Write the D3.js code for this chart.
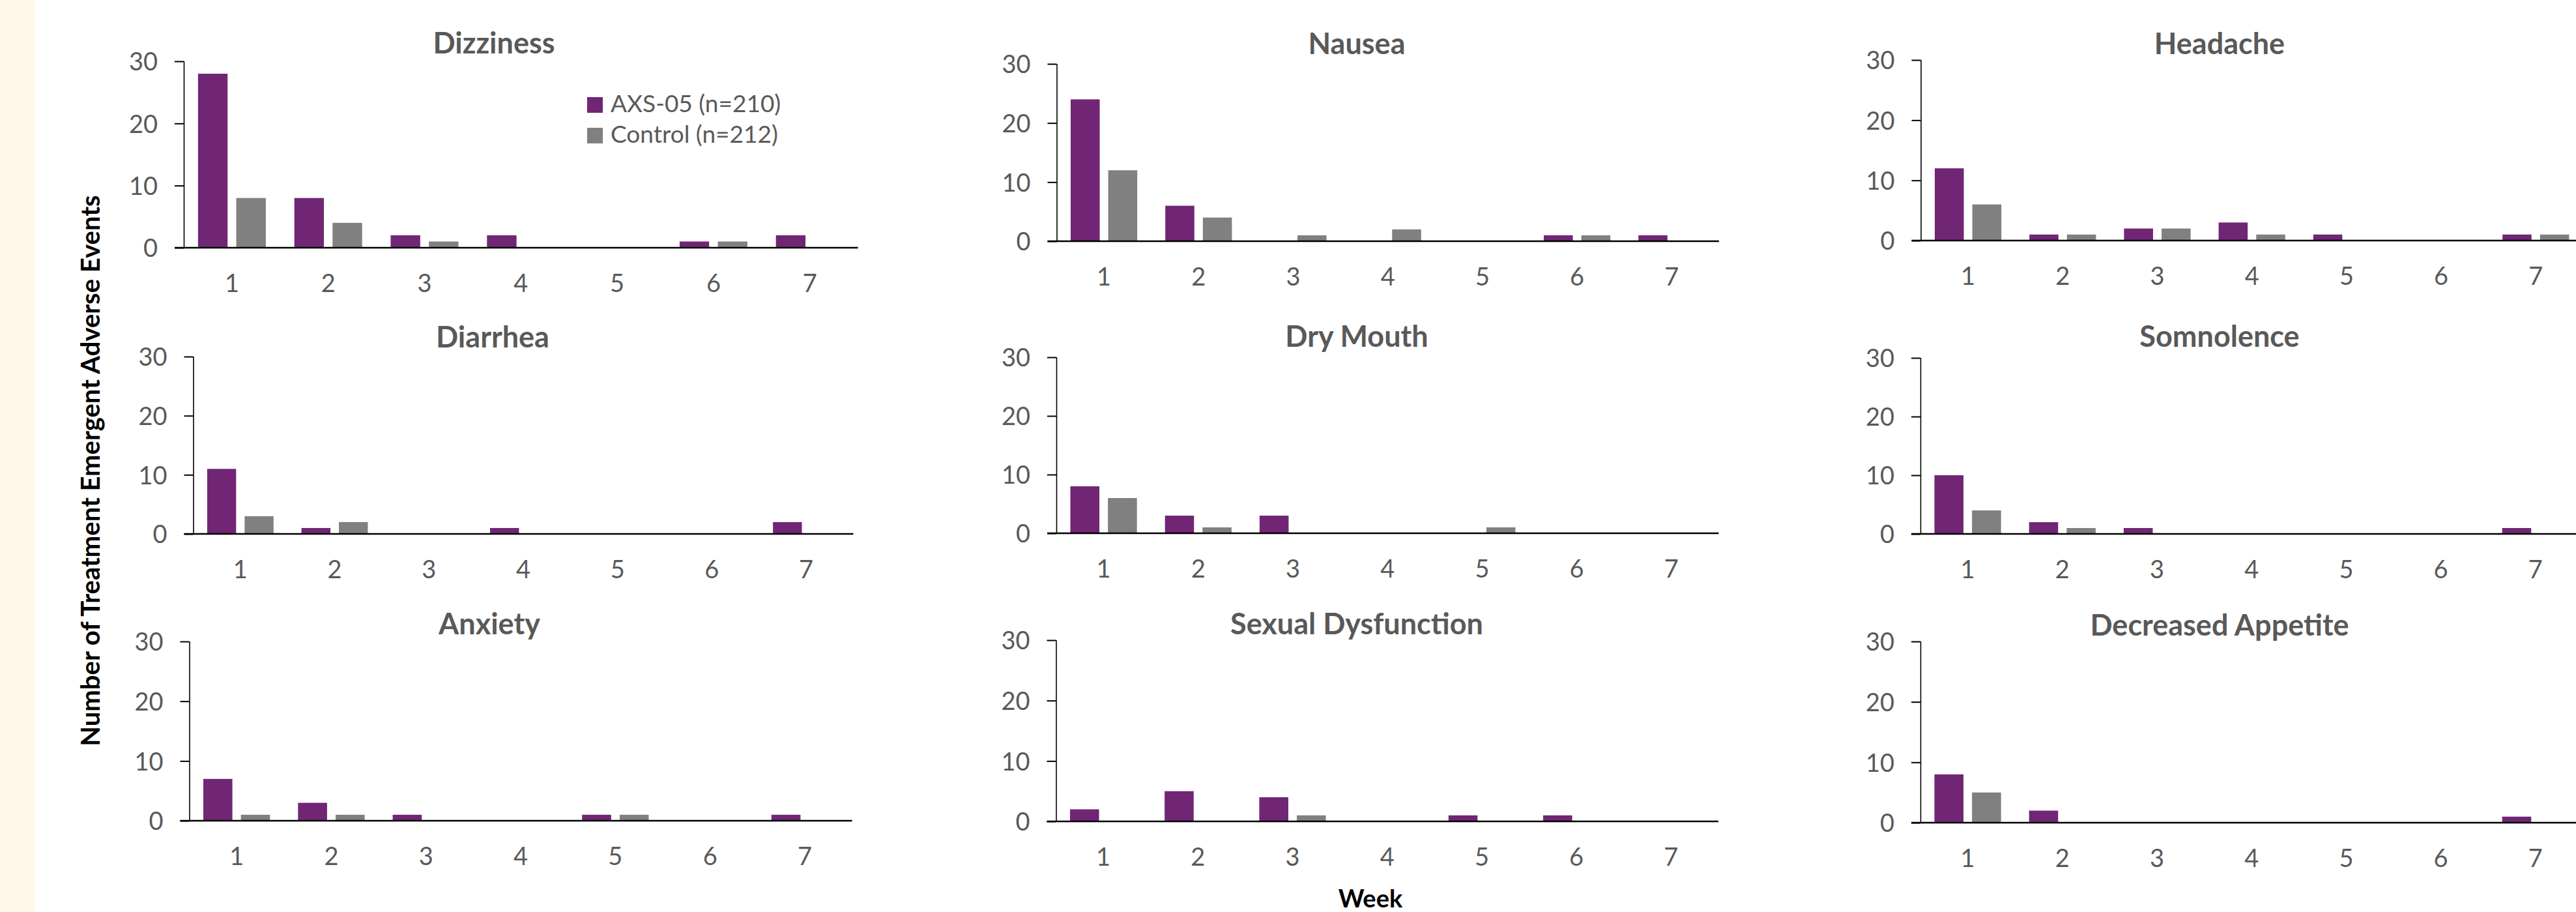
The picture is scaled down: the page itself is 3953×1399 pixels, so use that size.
<!DOCTYPE html>
<html>
<head>
<meta charset="utf-8">
<script src="https://cdn.jsdelivr.net/npm/d3@7"></script>
<style>
  html, body { margin: 0; padding: 0; background: #ffffff; }
  svg { display: block; }
  text { font-family: Lato, "Open Sans", sans-serif; }
</style>
</head>
<body>
<svg id="chart" width="3953" height="1399"></svg>
<script>
// ---------- data ----------
const weeks = ["1", "2", "3", "4", "5", "6", "7"];
const seriesNames = ["AXS-05 (n=210)", "Control (n=212)"];
const yTicks = [0, 10, 20, 30];
const symptoms = ["Dizziness", "Nausea", "Headache",
                  "Diarrhea", "Dry Mouth", "Somnolence",
                  "Anxiety", "Sexual Dysfunction", "Decreased Appetite"];
const axs05 = [
  [28, 8, 2, 2, 0, 1, 2],
  [24, 6, 0, 0, 0, 1, 1],
  [12, 1, 2, 3, 1, 0, 1],
  [11, 1, 0, 1, 0, 0, 2],
  [8, 3, 3, 0, 0, 0, 0],
  [10, 2, 1, 0, 0, 0, 1],
  [7, 3, 1, 0, 1, 0, 1],
  [2, 5, 4, 0, 1, 1, 0],
  [8, 2, 0, 0, 0, 0, 1]
];
const control = [
  [8, 4, 1, 0, 0, 1, 0],
  [12, 4, 1, 2, 0, 1, 0],
  [6, 1, 2, 1, 0, 0, 1],
  [3, 2, 0, 0, 0, 0, 0],
  [6, 1, 0, 0, 1, 0, 0],
  [4, 1, 0, 0, 0, 0, 0],
  [1, 1, 0, 0, 1, 0, 0],
  [0, 0, 1, 0, 0, 0, 0],
  [5, 0, 0, 0, 0, 0, 0]
];
const yAxisTitle = "Number of Treatment Emergent Adverse Events";
const xAxisTitle = "Week";

// ---------- layout (pixel frames of each small chart) ----------
const frames = [
  { x0: 282,    bw: 147.8, y0: 380,  y30: 94,  tx: 758,  ty: 82 },
  { x0: 1621.5, bw: 145.2, y0: 370,  y30: 98,  tx: 2082, ty: 83 },
  { x0: 2947.5, bw: 145.2, y0: 369,  y30: 92,  tx: 3406, ty: 83 },
  { x0: 296.5,  bw: 144.7, y0: 819,  y30: 547, tx: 756,  ty: 533 },
  { x0: 1621,   bw: 145.2, y0: 818,  y30: 548, tx: 2082, ty: 532 },
  { x0: 2947,   bw: 145.2, y0: 819,  y30: 549, tx: 3406, ty: 532 },
  { x0: 290.5,  bw: 145.3, y0: 1259, y30: 984, tx: 751,  ty: 973 },
  { x0: 1620.5, bw: 145.2, y0: 1260, y30: 982, tx: 2082, ty: 973 },
  { x0: 2947,   bw: 145.2, y0: 1262, y30: 984, tx: 3406, ty: 975 }
];

const colors = ["#702675", "#808080"];
const textGray = "#595959";

const svg = d3.select("#chart");

// cream strip on the left
svg.append("rect").attr("x", 0).attr("y", 0).attr("width", 53).attr("height", 1399)
  .attr("fill", "#fff7e7");

symptoms.forEach((name, i) => {
  const f = frames[i];
  const g = svg.append("g");
  const x = d3.scaleBand().domain(weeks).range([f.x0, f.x0 + 7 * f.bw]).padding(0);
  const xs = d3.scaleBand().domain(seriesNames).range([0, x.bandwidth()])
    .paddingInner(0.227).paddingOuter(0.373);
  const y = d3.scaleLinear().domain([0, 30]).range([f.y0, f.y30]);

  const rows = weeks.map((w, k) => ({ week: w, vals: [axs05[i][k], control[i][k]] }));

  // bars
  const grp = g.selectAll("g.wk").data(rows).join("g")
    .attr("transform", d => `translate(${x(d.week)},0)`);
  grp.selectAll("rect").data(d => d.vals.map((v, s) => ({ s, v }))).join("rect")
    .attr("x", d => xs(seriesNames[d.s]))
    .attr("width", xs.bandwidth())
    .attr("y", d => y(d.v))
    .attr("height", d => y(0) - y(d.v))
    .attr("fill", d => colors[d.s]);

  // y axis
  const ya = g.append("g").attr("transform", `translate(${f.x0},0)`)
    .call(d3.axisLeft(y).tickValues(yTicks).tickSize(14).tickPadding(26));
  ya.select(".domain").attr("stroke", "#000").attr("stroke-width", 1.6)
    .attr("d", `M0.5,${y(30)}V${y(0)}`);
  ya.selectAll(".tick line").attr("stroke", "#000").attr("stroke-width", 2);
  ya.selectAll(".tick text").attr("fill", textGray).attr("font-size", 38)
    .attr("font-family", "Lato, sans-serif").attr("dy", "0.36em");

  // x axis
  const xa = g.append("g").attr("transform", `translate(0,${f.y0})`)
    .call(d3.axisBottom(x).tickSize(0));
  xa.select(".domain").attr("stroke", "#000").attr("stroke-width", 2.6)
    .attr("d", `M${f.x0 - 14},0H${x.range()[1]}`);
  xa.selectAll(".tick text").attr("fill", textGray).attr("font-size", 38)
    .attr("font-family", "Lato, sans-serif").attr("y", 68).attr("dy", 0);

  // title
  g.append("text").attr("x", f.tx).attr("y", f.ty).attr("text-anchor", "middle")
    .attr("font-size", 45).attr("font-weight", 700).attr("fill", textGray).text(name);

  // legend in first chart
  if (i === 0) {
    const leg = g.append("g");
    const lx = 901, ly = [149, 196];
    seriesNames.forEach((s, k) => {
      leg.append("rect").attr("x", lx).attr("y", ly[k]).attr("width", 24).attr("height", 24)
        .attr("fill", colors[k]);
      leg.append("text").attr("x", lx + 36).attr("y", ly[k] + 23)
        .attr("font-size", 37).attr("fill", textGray).text(s);
    });
  }
});

// shared axis titles
svg.append("text")
  .attr("transform", "translate(153,722) rotate(-90)")
  .attr("text-anchor", "middle").attr("font-size", 40).attr("font-weight", 700)
  .attr("fill", "#000").text(yAxisTitle);
svg.append("text")
  .attr("x", 2103).attr("y", 1392).attr("text-anchor", "middle")
  .attr("font-size", 38).attr("font-weight", 700).attr("fill", "#000").text(xAxisTitle);
</script>
</body>
</html>
